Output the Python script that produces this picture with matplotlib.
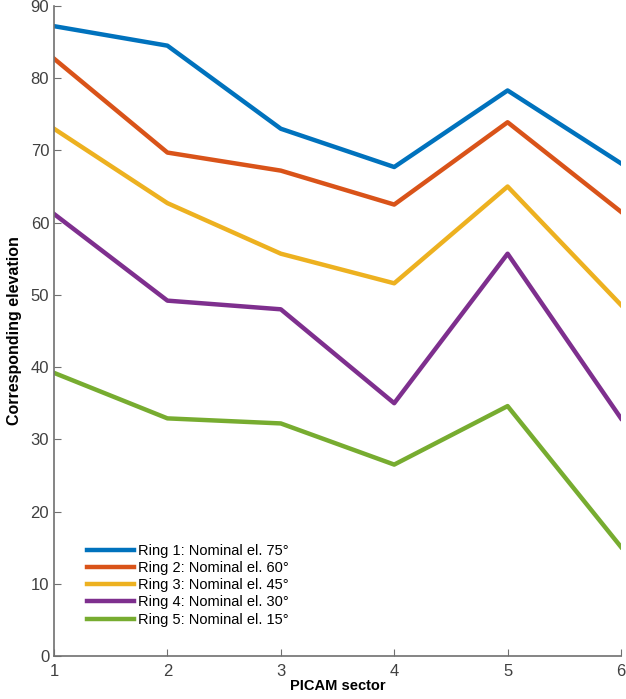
import matplotlib
matplotlib.use("Agg")
import matplotlib.pyplot as plt

plt.rcParams['font.family'] = ['Liberation Sans', 'DejaVu Sans']

sectors = [1, 2, 3, 4, 5, 6]
ring1 = [87.2, 84.5, 73.0, 67.7, 78.3, 68.2]
ring2 = [82.7, 69.7, 67.2, 62.5, 73.9, 61.5]
ring3 = [73.0, 62.7, 55.7, 51.6, 65.0, 48.6]
ring4 = [61.2, 49.2, 48.0, 35.0, 55.7, 32.9]
ring5 = [39.2, 32.9, 32.2, 26.5, 34.6, 15.1]
labels = ['Ring 1: Nominal el. 75°', 'Ring 2: Nominal el. 60°',
          'Ring 3: Nominal el. 45°', 'Ring 4: Nominal el. 30°',
          'Ring 5: Nominal el. 15°']
colors = ['#0072BD', '#D95319', '#EDB120', '#7E2F8E', '#77AC30']

fig = plt.figure(figsize=(6.26, 6.99), dpi=100)
ax = fig.add_axes([0.0863, 0.0615, 0.9057, 0.93])

for ys, lab, c in zip([ring1, ring2, ring3, ring4, ring5], labels, colors):
    ax.plot(sectors, ys, color=c, lw=3.2, label=lab)

ax.set_xlim(1, 6)
ax.set_ylim(0, 90)
ax.set_xticks(sectors)
ax.set_yticks(range(0, 91, 10))
ax.spines['top'].set_visible(False)
ax.spines['right'].set_visible(False)
for s in ['left', 'bottom']:
    ax.spines[s].set_color('#707070')
    ax.spines[s].set_linewidth(1.2)
ax.tick_params(direction='in', colors='#707070', labelcolor='#404040',
               labelsize=12, length=5)
ax.tick_params(axis='x', pad=6)
ax.set_xlabel('PICAM sector', fontweight='bold', fontsize=10.5, labelpad=0)
ax.set_ylabel('Corresponding elevation', fontweight='bold', fontsize=11.5, labelpad=6)

ax.legend(loc='lower left', bbox_to_anchor=(0.035, 0.025), frameon=False,
          fontsize=10.5, handlelength=3.2, handletextpad=0.3, labelspacing=0.22)

fig.savefig('out.png', dpi=100)
